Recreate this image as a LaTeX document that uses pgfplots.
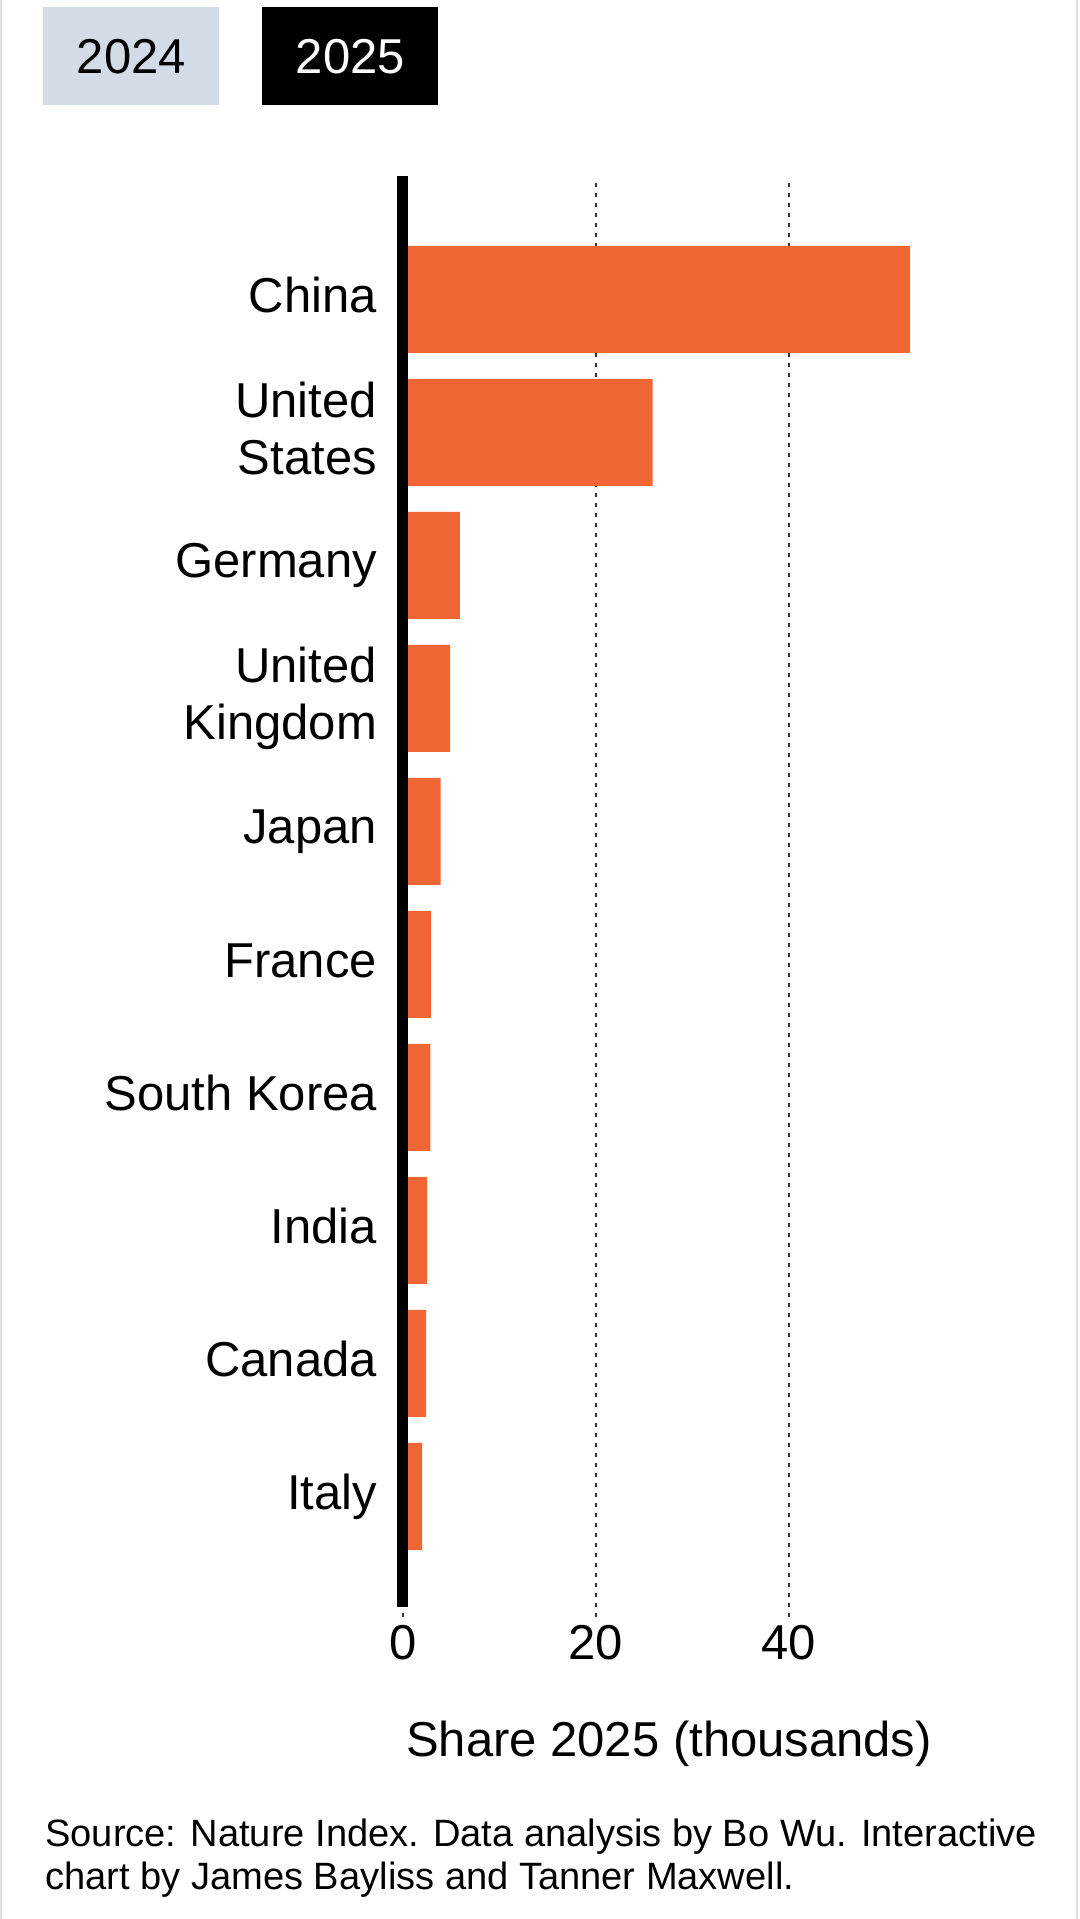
\documentclass[border=0pt]{standalone}
\usepackage{fontspec}
\setmainfont{Liberation Sans}
\usepackage{pgfplots}
\pgfplotsset{compat=1.18}
\definecolor{barorange}{RGB}{239,102,52}
\definecolor{btngray}{RGB}{211,220,230}
\definecolor{gridgray}{RGB}{50,50,50}
\newcommand{\st}{\rule[-0.18em]{0pt}{0.896em}}
\begin{document}
\begin{tikzpicture}
\path[use as bounding box] (0,0) rectangle (540pt,959.5pt);
\draw[line width=1pt, black!12] (0.5pt,0) -- (0.5pt,959.5pt);
\draw[line width=1pt, black!12] (538.5pt,0) -- (538.5pt,959.5pt);
\node[fill=btngray, minimum width=88pt, minimum height=49pt, inner sep=0pt, anchor=north west,
      font=\fontsize{24.5}{29}\selectfont] at (21.5pt,956pt) {2024};
\node[fill=black, text=white, minimum width=88pt, minimum height=49pt, inner sep=0pt, anchor=north west,
      font=\fontsize{24.5}{29}\selectfont] at (131pt,956pt) {2025};
\begin{axis}[
  at={(201.45pt,151pt)}, anchor=south west,
  scale only axis, width=289.3pt, height=717.5pt,
  xmin=0, xmax=60, ymin=-0.906, ymax=9.883,
  axis line style={draw=none}, major tick length=0pt,
  xtick={0,20,40},
  xmajorgrids,
  major grid style={gridgray, line width=1pt, dash pattern=on 2.2pt off 2.8pt},
  ytick={0,1,2,3,4,5,6,7,8,9},
  yticklabels={{\st Italy},{\st Canada},{\st India},{\st South Korea},{\st France},{\st Japan},{\st United\\\st Kingdom},{\st Germany},{\st United\\\st States},{\st China}},
  yticklabel style={anchor=east, inner sep=0pt, xshift=-12.8pt, align=right, font=\fontsize{24.5}{28.75}\selectfont},
  xticklabel style={anchor=base, inner sep=0pt, yshift=-21.5pt, font=\fontsize{24.5}{29}\selectfont},
  /pgf/number format/assume math mode=true,
  xlabel={Share 2025 (thousands)},
  xlabel style={at={(axis description cs:0.46,0)}, anchor=base, inner sep=0pt, yshift=-69.7pt, font=\fontsize{24.5}{29}\selectfont},
  clip=false,
]
\addplot[xbar, bar width=53.5pt, bar shift=0pt, fill=barorange, draw=none] coordinates {
  (52.6,9) (25.9,8) (5.9,7) (4.9,6) (3.9,5) (2.9,4) (2.85,3) (2.5,2) (2.4,1) (2.0,0)
};
\draw[line width=5.5pt, black] (axis cs:0,-0.831) -- (axis cs:0,9.929);
\end{axis}
\node[anchor=base west, inner sep=0pt, font=\fontsize{19.03}{21.5}\selectfont] at (22.5pt,36.1pt) {Source: Nature Index. Data analysis by Bo Wu. Interactive};
\node[anchor=base west, inner sep=0pt, font=\fontsize{19.03}{21.5}\selectfont] at (22.5pt,14.6pt) {chart by James Bayliss and Tanner Maxwell.};
\end{tikzpicture}
\end{document}
